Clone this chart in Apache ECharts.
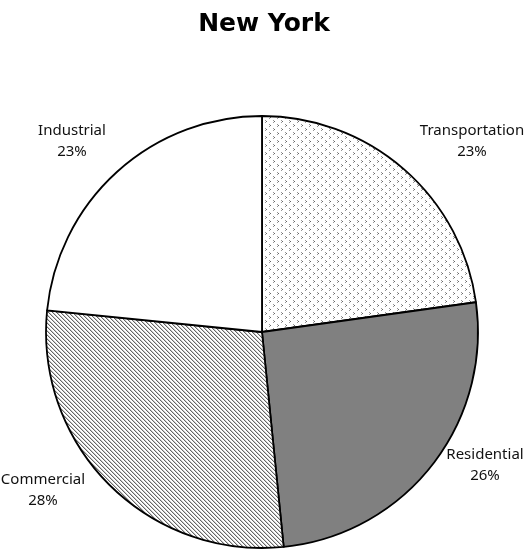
<!DOCTYPE html>
<html>
<head>
<meta charset="utf-8">
<script src="https://cdn.jsdelivr.net/npm/echarts@6/dist/echarts.min.js"></script>
<style>
  html, body { margin: 0; padding: 0; background: #fff; }
  #main { width: 528px; height: 550px; }
</style>
</head>
<body>
<div id="main"></div>
<script>
// sector shares (clockwise from 12 o'clock)
const categories = ['Transportation', 'Residential', 'Commercial', 'Industrial'];
const shares = [22.8, 25.6, 28.2, 23.4];

// small tiling fills, drawn pixel by pixel
function makePattern(size, pixels) {
    const c = document.createElement('canvas');
    c.width = size;
    c.height = size;
    const ctx = c.getContext('2d');
    ctx.fillStyle = '#fff';
    ctx.fillRect(0, 0, size, size);
    pixels.forEach(p => {
        ctx.fillStyle = p[2];
        ctx.fillRect(p[0], p[1], 1, 1);
    });
    return { image: c, repeat: 'repeat' };
}

const dots = makePattern(8, [
    [1, 0, '#999'], [2, 1, '#666'], [1, 2, '#999'],
    [5, 4, '#999'], [6, 5, '#666'], [5, 6, '#999']
]);
const hatch = makePattern(4, [
    [0, 0, '#666'], [1, 1, '#666'], [2, 2, '#666'], [3, 3, '#666'],
    [1, 0, '#ccc'], [2, 1, '#ccc'], [3, 2, '#ccc'], [0, 3, '#ccc']
]);
const fills = [dots, '#808080', hatch, '#ffffff'];

// where each label block sits (its centre)
const labelSpots = [[472, 141], [485, 465], [43, 490], [72, 141]];

const chart = echarts.init(document.getElementById('main'));
const option = {
    backgroundColor: '#fff',
    animation: false,
    title: {
        text: 'New York',
        left: 'center',
        top: 7,
        textStyle: {
            fontFamily: 'DejaVu Sans',
            fontWeight: 'bold',
            fontSize: 25,
            color: '#000'
        }
    },
    series: [
        {
            type: 'pie',
            center: [262, 332],
            radius: 216,
            startAngle: 90,
            clockwise: true,
            percentPrecision: 0,
            avoidLabelOverlap: false,
            itemStyle: {
                borderColor: '#000',
                borderWidth: 1.8
            },
            label: {
                show: true,
                position: 'outside',
                formatter: '{b}\n{d}%',
                fontFamily: 'Noto Sans',
                fontSize: 15,
                lineHeight: 21,
                color: '#111',
                align: 'center'
            },
            labelLine: { show: false },
            labelLayout: function (params) {
                const p = labelSpots[params.dataIndex];
                return { x: p[0], y: p[1], align: 'center', verticalAlign: 'middle' };
            },
            emphasis: { disabled: true },
            data: categories.map((name, i) => ({
                name: name,
                value: shares[i],
                itemStyle: { color: fills[i] }
            }))
        }
    ]
};
chart.setOption(option);
</script>
</body>
</html>
